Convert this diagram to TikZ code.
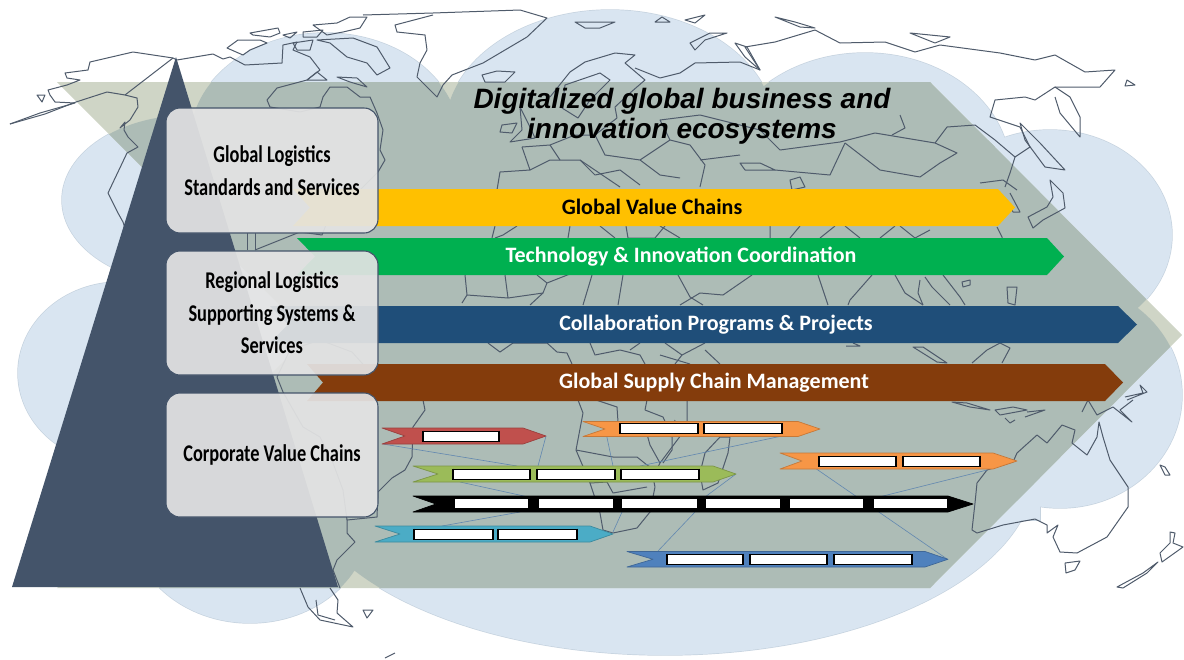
\documentclass[tikz,border=0pt]{standalone}
\usepackage{fontspec}
\setmainfont{Carlito}
\newfontfamily\boxfont[FakeStretch=0.765]{Carlito}
\newfontfamily\titlefont{Liberation Sans}
\definecolor{cloudc}{HTML}{D9E5F1}
\definecolor{cloude}{HTML}{C6D3DF}
\definecolor{chevw}{HTML}{CFD5C6}
\definecolor{chevb}{HTML}{ADBCB6}
\definecolor{mapc}{HTML}{4F5B6B}
\definecolor{pyr}{HTML}{44546A}
\definecolor{linkc}{HTML}{6288B0}
\definecolor{boxc}{HTML}{E4E4E4}
\definecolor{chainred}{HTML}{C0504D}
\definecolor{chaingreen}{HTML}{9BBB59}
\definecolor{chaincyan}{HTML}{4BACC6}
\definecolor{chainblue}{HTML}{4F81BD}
\definecolor{chainorange}{HTML}{F79646}
\definecolor{baryellow}{HTML}{FFC000}
\definecolor{bargreen}{HTML}{00B050}
\definecolor{barblue}{HTML}{1F4E79}
\definecolor{barbrown}{HTML}{843C0C}
\tikzset{
  mapline/.style={draw=mapc,line width=1pt,line join=round},
  lbox/.style={draw=pyr,line width=1.1pt,fill=boxc,fill opacity=.92,text opacity=1,rounded corners=14pt,minimum width=212pt,align=center,font=\boxfont\bfseries\fontsize{24}{32.5}\selectfont},
  bartext/.style={font=\bfseries\fontsize{22}{26}\selectfont,text=#1},
  titletext/.style={font=\titlefont\bfseries\itshape\fontsize{28}{30}\selectfont,align=center},
  link/.style={draw=linkc,line width=0.6pt}
}
\newcommand{\cloudset}[1]{%
  \path[#1] (190,200) ellipse (128 and 85);
  \path[#1] (325,140) ellipse (135 and 107);
  \path[#1] (610,130) ellipse (165 and 120);
  \path[#1] (865,170) ellipse (145 and 117);
  \path[#1] (1050,235) ellipse (122 and 105);
  \path[#1] (1060,395) ellipse (122 and 113);
  \path[#1] (665,470) ellipse (370 and 185);
  \path[#1] (250,520) ellipse (120 and 103);
  \path[#1] (120,373) ellipse (102 and 91);
  \path[#1] (150,140) rectangle (1040,520);
}
\newcommand{\chainbar}[7]{% colour xtail xnotch xshoulder xtip ytop ybot
  \path[fill=#1,draw=#1!80!black,line width=0.7pt,line join=round] (#2,#6) -- (#4,#6) -- (#5,{(#6+#7)/2}) -- (#4,#7) -- (#2,#7) -- (#3,{(#6+#7)/2}) -- cycle;}
\newcommand{\slotbox}[4]{%
  \draw[black,line width=0.5pt,fill=white] (#1,#3) rectangle (#2,#4);
  \draw[black,line width=2.6pt] (#1,#3-0.5) -- (#1,#4+0.5) (#2,#3-0.5) -- (#2,#4+0.5);}
\newcommand{\slotplain}[4]{\fill[white] (#1,#3) rectangle (#2,#4);}
\begin{document}
\begin{tikzpicture}[x=1pt,y=-1pt]
\useasboundingbox (0,0) rectangle (1184,659);
% cloud
\cloudset{draw=cloude,line width=1.4pt}
\cloudset{fill=cloudc}
% chevron
\fill[chevw] (57,82) -- (930,82) -- (1182,335) -- (930,588) -- (57,588) -- (310,335) -- cycle;
\begin{scope}
\clip (57,82) -- (930,82) -- (1182,335) -- (930,588) -- (57,588) -- (310,335) -- cycle;
\cloudset{fill=chevb}
\end{scope}
% ---- map ----
\begin{scope}[mapline]
% Alaska / north coast
\draw (10,124) -- (40,113) -- (75,103) -- (55,102) -- (50,95) -- (48,90) -- (67,85) -- (80,80) -- (67,78) -- (65,73) -- (88,70) -- (90,62) -- (133,52) -- (173,58) -- (177,60) -- (213,54) -- (223,59) -- (230,57) -- (245,65) -- (282,63) -- (283,45) -- (297,42) -- (293,50) -- (310,57) -- (320,70) -- (307,80) -- (277,88) -- (267,100) -- (270,107);
\draw (10,124) -- (45,114) -- (76,102) -- (107,92) -- (125,95) -- (137,98) -- (138,107) -- (130,120) -- (120,128) -- (125,122) -- (124,130) -- (128,137) -- (138,147) -- (127,153) -- (108,193) -- (118,213) -- (123,222) -- (135,260);
\draw (173,58) -- (125,95);
\draw (37,95) -- (45,95) -- (42,102) -- cycle;
\draw (307,80) -- (327,80) -- (317,72) -- cycle;
\draw (320,107) -- (323,97) -- (330,87) -- (347,87) -- (360,97) -- (370,97) -- (377,113) -- (383,130) -- (380,150) -- (385,160) -- (378,172) -- (360,190) -- (330,215) -- (322,235) -- (300,232) -- (280,240) -- (255,250);
\draw (270,107) -- (300,112) -- (320,107);
\draw (247,233) -- (247,250) (255,233) -- (255,250);
% Arctic islands
\draw (227,48) -- (238,40) -- (260,40) -- (267,43) -- (250,50) -- (243,55) -- cycle;
\draw (250,33) -- (278,28) -- (280,33) -- (270,37) -- (253,35) -- cycle;
\draw (283,35) -- (297,32) -- (290,38) -- cycle;
\draw (303,32) -- (323,30) -- (317,37) -- (303,37) -- cycle;
\draw (293,43) -- (313,40) -- (310,50) -- (297,50) -- cycle;
\draw (317,40) -- (353,38) -- (377,47) -- (390,68) -- (377,75) -- (367,63) -- (347,57) -- (330,43) -- cycle;
\draw (313,25) -- (337,23) -- (350,17) -- (367,17) -- (360,28) -- (343,32) -- (327,35) -- cycle;
\draw (337,77) -- (357,78) -- (367,87) -- (350,82) -- cycle;
% Greenland, Iceland
\draw (363,15) -- (433,13) -- (520,10) -- (547,18) -- (527,37) -- (483,63) -- (452,75) -- (443,85) -- (437,97) -- (417,77) -- (420,63) -- (427,50) -- (425,35) -- (397,32) -- (395,25) -- (433,15);
\draw (482,75) -- (497,71) -- (515,72) -- (505,82) -- (485,82) -- cycle;
% Scandinavia
\draw (550,97) -- (570,72) -- (585,62) -- (615,53) -- (635,55) -- (625,63) -- (645,80) -- (630,93) -- (615,107) -- (617,118);
\draw (565,85) -- (600,73) -- (610,80) -- (590,100) -- (578,118) -- (562,108) -- cycle;
% Russia north coast
\draw (635,68) -- (660,78) -- (680,73) -- (695,63) -- (740,62) -- (760,70) -- (745,47) -- (775,42) -- (815,30) -- (840,43) -- (885,42) -- (915,52) -- (940,45) -- (1000,53) -- (1035,60) -- (1055,55) -- (1085,72) -- (1115,70) -- (1100,87) -- (1055,87) -- (1035,100) -- (1025,97) -- (995,100) -- (990,117) -- (1020,127) -- (1030,147) -- (1015,157) -- (1010,173) -- (1005,187);
\draw (1055,87) -- (1070,97) -- (1080,117) -- (1080,137) -- (1060,113) -- (1055,97);
\draw (735,43) -- (745,57) -- (760,70) -- (747,47) -- cycle;
% arctic ocean islands
\draw (655,22) -- (670,22) -- (662,17) -- cycle;
\draw (685,20) -- (705,15) -- (695,23) -- cycle;
\draw (775,17) -- (795,22) -- (815,28) -- (800,27) -- cycle;
\draw (575,22) -- (615,22) -- (600,28) -- (585,28) -- cycle;
\draw (690,43) -- (710,33) -- (727,33) -- (705,40) -- (695,50) -- cycle;
\draw (910,33) -- (950,37) -- (935,43) -- cycle;
\draw (1127,80) -- (1135,85) -- (1125,86) -- cycle;
\draw (1020,123) -- (1040,143) -- (1065,170) -- (1045,167) -- (1025,140) -- cycle;
% Japan
\draw (1028,217) -- (1047,207) -- (1053,197) -- (1050,180) -- (1063,193) -- (1065,208) -- (1043,220) -- (1033,228) -- cycle;
% Europe
\draw (502,125) -- (517,123) -- (512,133) -- (500,132) -- cycle;
\draw (520,107) -- (530,127) -- (535,138) -- (510,142) -- (522,130) -- cycle;
\draw (522,147) -- (530,170) -- (500,172) -- (497,190);
\draw (522,147) -- (550,145) -- (575,135) -- (595,135) -- (617,118);
\draw (530,170) -- (550,160) -- (580,160) -- (620,187);
\draw (580,160) -- (595,175) -- (620,170) -- (640,185);
\draw (550,145) -- (560,160) (595,135) -- (605,155) -- (640,160) -- (670,140) -- (690,145) -- (705,165) -- (700,187);
\draw (640,160) -- (660,175) -- (680,178);
\draw (670,140) -- (660,120) -- (700,115) -- (760,130) -- (780,150) -- (840,142);
\draw (740,163) -- (760,163) -- (775,170) -- (745,170) -- cycle;
\draw (790,180) -- (800,177) -- (805,187) -- (792,190) -- cycle;
\draw (700,160) -- (740,155) (775,170) -- (830,175) -- (845,143);
% Mongolia, China
\draw (840,142) -- (875,133) -- (935,143) -- (957,153) -- (940,163) -- (920,177) -- (880,170) -- (845,143);
\draw (900,115) -- (905,128) -- (892,135);
\draw (935,143) -- (947,127) -- (975,125) -- (995,140) -- (1015,157);
% Below yellow
\draw (495,226) -- (492,238) (517,226) -- (503,235) -- (495,238);
\draw (570,226) -- (568,238) (600,226) -- (615,238) (626,226) -- (628,238) -- (655,238) -- (665,226);
\draw (660,226) -- (680,238) (770,226) -- (770,238) (800,226) -- (790,238) (845,226) -- (860,238);
\draw (835,226) -- (820,238) (895,226) -- (880,238) (900,226) -- (915,238) -- (930,230);
\draw (997,227) -- (1002,237) -- (1003,247);
\draw (1010,193) -- (1020,212) -- (1013,212) -- (1007,200);
\draw (980,183) -- (1003,180) -- (1017,190);
% North Africa & Arabia below green
\draw (465,275) -- (467,295) -- (462,303);
\draw (467,295) -- (508,298) -- (505,275);
\draw (508,298) -- (543,293) -- (547,283) -- (537,275);
\draw (547,283) -- (575,272);
\draw (530,305) -- (543,293);
\draw (583,305) -- (592,275);
\draw (623,275) -- (618,305);
\draw (678,275) -- (690,297) -- (703,305);
\draw (700,293) -- (723,295) -- (752,275);
\draw (680,305) -- (700,293);
\draw (818,275) -- (828,305);
\draw (872,275) -- (850,300) -- (848,305);
\draw (895,275) -- (905,293) -- (923,305);
\draw (920,280) -- (918,293) -- (923,305);
\draw (925,277) -- (932,287) -- (950,305);
\draw (943,275) -- (960,297) -- (965,305);
\draw (962,282) -- (970,280) -- (970,285) -- (963,287) -- cycle;
\draw (1007,287) -- (1017,287) -- (1015,305) -- (1008,303) -- cycle;
% Below blue
\draw (488,343) -- (500,352) -- (513,343);
\draw (513,343) -- (547,343) -- (557,352) -- (567,353) -- (572,364);
\draw (590,343) -- (595,355) -- (620,350) -- (640,355) -- (645,364);
\draw (630,350) -- (640,343) (660,355) -- (690,364) (665,343) -- (682,355) -- (705,343);
\draw (682,355) -- (675,364) (705,350) -- (720,364);
\draw (853,343) -- (860,346) -- (846,346);
\draw (913,347) -- (923,347) -- (947,363) -- (937,362) -- cycle;
\draw (972,363) -- (987,350) -- (1000,343) -- (1010,348) -- (1002,363);
% Africa
\draw (578,400) -- (583,413) -- (576,450) -- (590,483) -- (600,513) -- (603,530) -- (613,533) -- (637,528) -- (650,512) -- (655,487) -- (653,477) -- (660,463) -- (687,427) -- (687,400);
\draw (596,400) -- (617,407) -- (618,422) -- (645,427) -- (650,445) -- (660,463);
\draw (576,450) -- (613,457) -- (637,457) -- (647,465) -- (655,470);
\draw (645,410) -- (663,417) -- (672,437) -- (672,450) -- (663,463);
\draw (590,483) -- (607,482) -- (613,493) -- (647,487);
\draw (647,400) -- (645,410) (670,437) -- (675,420);
\draw (705,453) -- (720,437) -- (730,437) -- (728,453) -- (718,483) -- (703,490) -- (700,473) -- cycle;
% South America
\draw (423,400) -- (425,410) -- (413,427) -- (412,457) -- (405,470) -- (392,478) -- (378,492) -- (377,517) -- (347,520) -- (347,533) -- (355,542) -- (337,560) -- (333,570);
\draw (283,392) -- (277,377) -- (290,350) -- (320,340) -- (352,352) -- (370,372) -- (385,385) -- (423,400);
\draw (283,392) -- (303,427) -- (320,437) -- (333,463) -- (343,490) -- (347,520);
\draw (340,588) -- (333,570);
\draw (300,588) -- (308,607) -- (320,620) -- (353,627) -- (337,613) -- (338,600) -- (330,588);
\draw (316,600) -- (318,615) -- (335,620);
\draw (363,610) -- (373,610) -- (367,618) -- cycle;
\draw (385,658) -- (395,653);
% SE Asia, Oceania
\draw (952,402) -- (967,403) -- (990,410) -- (970,407) -- cycle;
\draw (995,410) -- (1013,407) -- (1027,410) -- (1000,415) -- cycle;
\draw (1005,418) -- (1010,423) -- (1015,420);
\draw (1027,412) -- (1045,410) -- (1025,417);
\draw (1082,412) -- (1088,400) -- (1097,415) -- (1113,407) -- (1132,422) -- (1120,410) -- (1133,400);
\draw (1125,397) -- (1143,393) -- (1140,385) -- (1147,392) -- (1127,400);
\draw (972,530) -- (977,533) -- (1003,525) -- (1035,519) -- (1047,525) -- (1047,533) -- (1058,525) -- (1053,537) -- (1060,552) -- (1077,553) -- (1107,537) -- (1128,507) -- (1128,487) -- (1110,460) -- (1103,437) -- (1099,422) -- (1097,437) -- (1087,455) -- (1072,443) -- (1075,430) -- (1062,425) -- (1047,443) -- (1037,435) -- (1017,453) -- (1013,462) -- (987,470) -- (977,483) -- (975,503) -- cycle;
\draw (1065,563) -- (1080,561) -- (1075,570) -- (1066,573) -- cycle;
\draw (1170,532) -- (1175,533) -- (1173,543) -- (1183,547) -- (1162,562) -- (1160,553) -- (1170,543) -- cycle;
\draw (1158,562) -- (1143,573) -- (1117,587) -- (1123,588) -- (1147,573) -- cycle;
\draw (1160,465) -- (1165,467) -- (1170,475) -- (1165,475) -- cycle;
\end{scope}
% ---- big bars ----
\fill[baryellow] (293,189) -- (998,189) -- (1015,207.5) -- (998,226) -- (293,226) -- (310,207.5) -- cycle;
\fill[bargreen] (297,238) -- (1047,238) -- (1064,256.5) -- (1047,275) -- (297,275) -- (315,256.5) -- cycle;
\fill[barblue] (270,306) -- (1118,306) -- (1137,324.5) -- (1118,343) -- (270,343) -- (288,324.5) -- cycle;
\fill[barbrown] (307,364) -- (1105,364) -- (1123,382.5) -- (1105,401) -- (307,401) -- (323,382.5) -- cycle;
\node[bartext=black] (gvc) at (652,207) {Global Value Chains};
\node[bartext=white] (tic) at (681,257) {Technology \& Innovation Coordination};
\node[bartext=white] (cpp) at (716,325) {Collaboration Programs \& Projects};
\node[bartext=white] (gsc) at (714,383) {Global Supply Chain Management};
% title
\node[titletext] (title) at (682,116.5) {Digitalized global business and\\innovation ecosystems};
% pyramid
\fill[pyr] (176,57) -- (338,587) -- (12,587) -- cycle;
% level boxes
\node[lbox,minimum height=125pt] (b1) at (272,170.5) {Global Logistics\\Standards and Services};
\node[lbox,minimum height=124pt] (b2) at (272,313) {Regional Logistics\\Supporting Systems \&\\Services};
\node[lbox,minimum height=124pt] (b3) at (272,455) {Corporate Value Chains};
% connectors of the small chains
\coordinate (ra) at (383,444); \coordinate (rb) at (517,466);
\coordinate (rc) at (546,436); \coordinate (rd) at (538,466);
\coordinate (ga) at (460,482); \coordinate (gb) at (533,498);
\coordinate (ka) at (520,512); \coordinate (kb) at (442,526);
\coordinate (ca) at (613,532); \coordinate (cb) at (622,512);
\coordinate (oa) at (605,428); \coordinate (ob) at (613,466);
\coordinate (oc) at (782,436); \coordinate (od) at (640,466);
\coordinate (ge) at (736,474); \coordinate (gf) at (705,497);
\coordinate (kc) at (695,512); \coordinate (kd) at (658,551);
\coordinate (pa) at (815,468); \coordinate (pb) at (947,559);
\coordinate (pc) at (987,470); \coordinate (pd) at (875,498);
\path[link] (ra) -- (rb) (rc) -- (rd) (ga) -- (gb) (ka) -- (kb) (ca) -- (cb) (oa) -- (ob) (oc) -- (od) (ge) -- (gf) (kc) -- (kd) (pa) -- (pb) (pc) -- (pd);
% small chains
\chainbar{chainred}{382}{405}{523}{546}{428}{444}
\slotbox{423}{499}{431}{441}
\chainbar{chainorange}{583}{605}{798}{820}{421.5}{436.5}
\slotbox{620}{698}{423.5}{433.5}
\slotbox{704}{782}{423.5}{433.5}
\chainbar{chainorange}{780}{802}{993}{1017}{453}{469}
\slotbox{819}{896}{456}{466}
\slotbox{903}{980}{456}{466}
\chainbar{chaingreen}{413}{438}{713}{736}{466}{482}
\slotbox{453}{530}{469}{479}
\slotbox{537}{615}{469}{479}
\slotbox{621}{699}{469}{479}
\path[fill=black,draw=black,line width=0.7pt,line join=round] (413,496) -- (948,496) -- (973,504) -- (948,512) -- (413,512) -- (436,504) -- cycle;
\slotplain{455}{528}{499}{508}
\slotplain{539}{613}{499}{508}
\slotplain{622}{697}{499}{508}
\slotplain{706}{780}{499}{508}
\slotplain{790}{863}{499}{508}
\slotplain{874}{947}{499}{508}
\chainbar{chaincyan}{375}{400}{590}{613}{526}{542}
\slotbox{414}{493}{529}{539}
\slotbox{498}{577}{529}{539}
\chainbar{chainblue}{627}{653}{925}{948}{551.5}{567}
\slotbox{667}{743}{554}{564}
\slotbox{750}{827}{554}{564}
\slotbox{834}{912}{554}{564}
\end{tikzpicture}
\end{document}
